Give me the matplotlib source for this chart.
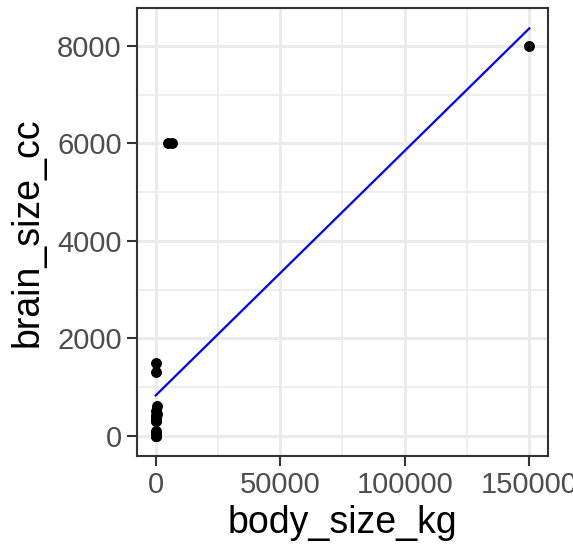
"""
Brain size vs. body size with a linear fit (ggplot theme_bw look)
"""
import numpy as np
import matplotlib.pyplot as plt
from matplotlib.ticker import MultipleLocator

plt.rcParams['font.family'] = ['Liberation Sans', 'DejaVu Sans']

# data
body_size_kg = [150000, 6400, 4800, 70, 65,
                400, 160, 600, 45, 60, 40, 30, 100, 10, 30, 8, 3, 1, 0.5, 0.2, 0.05, 0.02]
brain_size_cc = [8000, 6000, 6000, 1500, 1300,
                 600, 500, 450, 400, 400, 350, 300, 300, 100, 80, 50, 10, 5, 2, 1, 0.5, 0.4]

x = np.array(body_size_kg)
y = np.array(brain_size_cc)
slope, intercept = np.polyfit(x, y, 1)
xfit = np.array([x.min(), x.max()])
yfit = intercept + slope * xfit

fig = plt.figure(figsize=(5.73, 5.48), dpi=100)
ax = fig.add_axes([137 / 573, 1 - 456 / 548, 411 / 573, 448 / 548])

ax.scatter(x, y, s=62, color='black', zorder=3, linewidths=0)
ax.plot(xfit, yfit, color='#0000FF', lw=1.6, zorder=4)

# expand limits 5% like ggplot
lo_y = min(y.min(), yfit.min())
hi_y = max(y.max(), yfit.max())
ax.set_xlim(x.min() - 0.05 * (x.max() - x.min()), x.max() + 0.05 * (x.max() - x.min()))
ax.set_ylim(lo_y - 0.05 * (hi_y - lo_y), hi_y + 0.05 * (hi_y - lo_y))

ax.xaxis.set_major_locator(MultipleLocator(50000))
ax.xaxis.set_minor_locator(MultipleLocator(25000))
ax.yaxis.set_major_locator(MultipleLocator(2000))
ax.yaxis.set_minor_locator(MultipleLocator(1000))

ax.grid(which='major', color='#EBEBEB', lw=2.2)
ax.grid(which='minor', color='#EBEBEB', lw=1.1)
ax.set_axisbelow(True)
ax.tick_params(which='minor', length=0)
ax.tick_params(which='major', length=7, width=1.5, color='#333333',
               labelsize=21, labelcolor='#4D4D4D', pad=4)
for sp in ax.spines.values():
    sp.set_color('#333333')
    sp.set_linewidth(1.5)

ax.set_xlabel('body_size_kg', fontsize=27, labelpad=4)
ax.set_ylabel('brain_size_cc', fontsize=27, labelpad=8)

fig.savefig('out.png', dpi=100)
